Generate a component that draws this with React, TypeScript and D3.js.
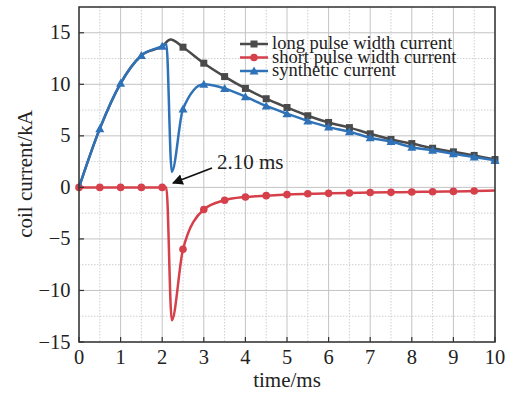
import React from "react";
import * as d3 from "d3";

const xTicks = [0, 1, 2, 3, 4, 5, 6, 7, 8, 9, 10];
const yTicks = [-15, -10, -5, 0, 5, 10, 15];
const legendLabels = ["long pulse width current", "short pulse width current", "synthetic current"];

// line points (time ms, current kA)
const longX = [0, 0.5, 1, 1.5, 2, 2.2, 2.5, 3, 3.5, 4, 4.5, 5, 5.5, 6, 6.5, 7, 7.5, 8, 8.5, 9, 9.5, 10];
const longY = [0, 5.7, 10.1, 12.8, 13.7, 14.35, 13.6, 12.05, 10.75, 9.6, 8.6, 7.75, 6.95, 6.3, 5.8, 5.2, 4.65, 4.25, 3.8, 3.45, 3.1, 2.7];
const shortX = [0, 0.5, 1, 1.5, 2, 2.1, 2.23, 2.5, 3, 3.5, 4, 4.5, 5, 5.5, 6, 6.5, 7, 7.5, 8, 8.5, 9, 9.5, 10];
const shortY = [0, 0, 0, 0, 0, 0, -12.9, -6.0, -2.15, -1.25, -0.93, -0.8, -0.7, -0.62, -0.58, -0.55, -0.5, -0.48, -0.45, -0.42, -0.39, -0.35, -0.3];
const synthX = [0, 0.5, 1, 1.5, 2, 2.1, 2.23, 2.5, 3, 3.5, 4, 4.5, 5, 5.5, 6, 6.5, 7, 7.5, 8, 8.5, 9, 9.5, 10];
const synthY = [0, 5.7, 10.1, 12.8, 13.7, 13.9, 1.5, 7.6, 10.0, 9.6, 8.8, 7.9, 7.15, 6.45, 5.85, 5.4, 4.82, 4.45, 3.9, 3.6, 3.27, 2.94, 2.62];
// marker positions (every 0.5 ms)
const longMarkX = [2.5, 3, 3.5, 4, 4.5, 5, 5.5, 6, 6.5, 7, 7.5, 8, 8.5, 9, 9.5, 10];
const markerStep = 0.5;

const W = 518, H = 394;
const L = 79, R = 495, T = 7, B = 342;

export default function App() {
  const x = d3.scaleLinear().domain([0, 10]).range([L, R]);
  const y = d3.scaleLinear().domain([-15, 17.5]).range([B, T]);
  const line = d3.line<[number, number]>().x(d => x(d[0])).y(d => y(d[1])).curve(d3.curveMonotoneX);
  const zip = (xs: number[], ys: number[]) => xs.map((v, i) => [v, ys[i]] as [number, number]);
  const longPts = zip(longX, longY);
  const shortPts = zip(shortX, shortY);
  const synthPts = zip(synthX, synthY);
  const onStep = (v: number) => Math.abs(v / markerStep - Math.round(v / markerStep)) < 1e-6;
  const longMarks = longPts.filter(p => longMarkX.includes(p[0]));
  const shortMarks = shortPts.filter(p => onStep(p[0]) && p[0] < 10);
  const synthMarks = synthPts.filter(p => onStep(p[0]) && p[0] > 0);

  const cBlack = "#4a4a4a", cRed = "#d5404a", cBlue = "#2f72b8";
  const minorX = d3.range(0.5, 10, 1);
  const minorY = [-12.5, -7.5, -2.5, 2.5, 7.5, 12.5, 17.5];
  const font = "Liberation Serif, Times New Roman, Times, DejaVu Serif, serif";

  const square = (p: [number, number], i: number) => (
    <rect key={i} x={x(p[0]) - 3.5} y={y(p[1]) - 3.5} width={7} height={7} fill={cBlack} />
  );
  const circle = (p: [number, number], i: number) => (
    <circle key={i} cx={x(p[0])} cy={y(p[1])} r={3.8} fill={cRed} />
  );
  const tri = (cx: number, cy: number, i: number) => (
    <path key={i} d={`M${cx},${cy - 4.5}L${cx + 4.5},${cy + 3.5}L${cx - 4.5},${cy + 3.5}Z`} fill={cBlue} />
  );

  const legY = [44, 57.5, 71];
  const legColors = [cBlack, cRed, cBlue];

  return (
    <svg width={W} height={H} style={{ position: "absolute", left: 0, top: 0, fontFamily: font }}>
      <rect x={0} y={0} width={W} height={H} fill="#fff" />
      {/* minor grid */}
      {minorX.map(v => (
        <line key={"mx" + v} x1={x(v)} x2={x(v)} y1={T} y2={B} stroke="#cfcfcf" strokeWidth={1} strokeDasharray="1.5,1.5" />
      ))}
      {minorY.map(v => (
        <line key={"my" + v} x1={L} x2={R} y1={y(v)} y2={y(v)} stroke="#cfcfcf" strokeWidth={1} strokeDasharray="1.5,1.5" />
      ))}
      {/* major grid */}
      {xTicks.map(v => (
        <line key={"gx" + v} x1={x(v)} x2={x(v)} y1={T} y2={B} stroke="#c4c4c4" strokeWidth={1} />
      ))}
      {yTicks.map(v => (
        <line key={"gy" + v} x1={L} x2={R} y1={y(v)} y2={y(v)} stroke="#c4c4c4" strokeWidth={1} />
      ))}
      {/* series */}
      <path d={line(longPts) || ""} fill="none" stroke={cBlack} strokeWidth={2.5} />
      {longMarks.map(square)}
      <path d={line(shortPts) || ""} fill="none" stroke={cRed} strokeWidth={2.5} />
      {shortMarks.map(circle)}
      <path d={line(synthPts) || ""} fill="none" stroke={cBlue} strokeWidth={2.5} />
      {synthMarks.map((p, i) => tri(x(p[0]), y(p[1]), i))}
      {/* frame */}
      <rect x={L} y={T} width={R - L} height={B - T} fill="none" stroke="#333" strokeWidth={1.5} />
      {/* ticks */}
      {xTicks.map(v => (
        <g key={"tx" + v}>
          <line x1={x(v)} x2={x(v)} y1={B} y2={B - 5} stroke="#333" strokeWidth={1.2} />
          <text x={x(v)} y={B + 22} textAnchor="middle" fontSize={20.5} fill="#222">{v}</text>
        </g>
      ))}
      {yTicks.map(v => (
        <g key={"ty" + v}>
          <line x1={L} x2={L + 5} y1={y(v)} y2={y(v)} stroke="#333" strokeWidth={1.2} />
          <text x={L - 8.5} y={y(v) + 6.5} textAnchor="end" fontSize={20.5} fill="#222">{v < 0 ? "\u2212" + Math.abs(v) : v}</text>
        </g>
      ))}
      <text x={(L + R) / 2} y={387} textAnchor="middle" fontSize={21} fill="#222">time/ms</text>
      <text transform={`translate(32,174) rotate(-90)`} textAnchor="middle" fontSize={21} fill="#222">coil current/kA</text>
      {/* legend */}
      {legendLabels.map((lab, i) => (
        <g key={lab}>
          <line x1={240} x2={268} y1={legY[i]} y2={legY[i]} stroke={legColors[i]} strokeWidth={2.5} />
          {i === 0 && <rect x={250.5} y={legY[i] - 3.5} width={7} height={7} fill={cBlack} />}
          {i === 1 && <circle cx={254} cy={legY[i]} r={3.8} fill={cRed} />}
          {i === 2 && tri(254, legY[i], 99)}
          <text x={272} y={legY[i] + 5} fontSize={18.5} fill="#222">{lab}</text>
        </g>
      ))}
      {/* annotation */}
      <defs>
        <marker id="ah" viewBox="0 0 10 10" refX={9} refY={5} markerWidth={6} markerHeight={6} orient="auto">
          <path d="M0,0L10,5L0,10Z" fill="#111" />
        </marker>
      </defs>
      <line x1={212} x2={173} y1={168} y2={183} stroke="#111" strokeWidth={1.8} markerEnd="url(#ah)" />
      <text x={217} y={169} fontSize={21} fill="#222">2.10 ms</text>
    </svg>
  );
}
